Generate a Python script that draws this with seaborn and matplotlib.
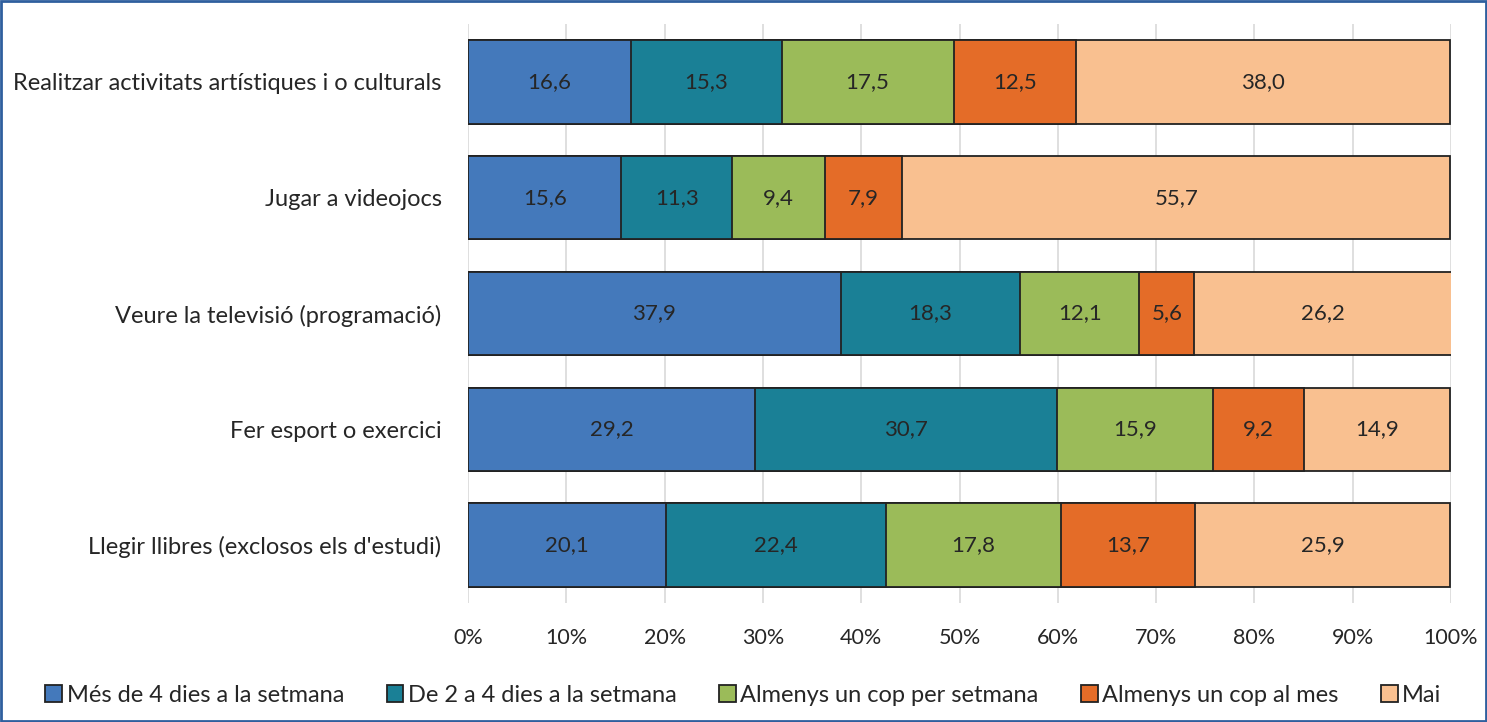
import matplotlib
matplotlib.use("Agg")
import matplotlib.pyplot as plt
import seaborn as sns
import pandas as pd
import numpy as np
from matplotlib.patches import Patch

categories = ["Realitzar activitats artístiques i o culturals",
              "Jugar a videojocs",
              "Veure la televisió (programació)",
              "Fer esport o exercici",
              "Llegir llibres (exclosos els d'estudi)"]
series = ["Més de 4 dies a la setmana", "De 2 a 4 dies a la setmana",
          "Almenys un cop per setmana", "Almenys un cop al mes", "Mai"]
mes4 = [16.6, 15.6, 37.9, 29.2, 20.1]
de2a4 = [15.3, 11.3, 18.3, 30.7, 22.4]
setmana = [17.5, 9.4, 12.1, 15.9, 17.8]
mes = [12.5, 7.9, 5.6, 9.2, 13.7]
mai = [38.0, 55.7, 26.2, 14.9, 25.9]
colors = ["#4479BB", "#1A8096", "#9BBB59", "#E46C28", "#F9C090"]

sns.set_theme(style="white")
plt.rcParams['font.family'] = ['Lato', 'DejaVu Sans']

vals = np.array([mes4, de2a4, setmana, mes, mai])
cum = vals.cumsum(axis=0)

fig = plt.figure(figsize=(14.87, 7.22), dpi=100)
ax = fig.add_axes([468/1487, 1-603/722, (1451-468)/1487, (603-24)/722])

for i in range(len(series) - 1, -1, -1):
    df = pd.DataFrame({"cat": categories, "val": cum[i]})
    sns.barplot(data=df, y="cat", x="val", orient="h", color=colors[i],
                width=0.72, edgecolor="#222222", linewidth=1.3, ax=ax,
                saturation=1)

for i in range(len(series)):
    for j in range(len(categories)):
        c = cum[i][j] - vals[i][j] / 2
        ax.text(c, j, f"{vals[i][j]:.1f}".replace(".", ","), ha="center",
                va="center", fontsize=16, color="#262626")

ax.set_xlim(0, 100)
ax.set_ylim(4.5, -0.5)
ax.set_xticks(np.arange(0, 101, 10))
ax.set_xticklabels([f"{t}%" for t in range(0, 101, 10)], fontsize=15.5, color="#262626")
ax.tick_params(axis="y", labelsize=17, labelcolor="#262626", pad=19, length=0)
ax.tick_params(axis="x", pad=18, length=0)
ax.set_xlabel("")
ax.set_ylabel("")
ax.grid(axis="x", color="#D9D9D9", linewidth=1.2)
ax.set_axisbelow(True)
for s in ax.spines.values():
    s.set_visible(False)

handles = [Patch(facecolor=colors[i], edgecolor="#222222", linewidth=1.3, label=series[i])
           for i in range(len(series))]
fig.legend(handles=handles, loc="center", bbox_to_anchor=(0.5, 1 - 695/722), ncol=5,
           frameon=False, fontsize=17, handlelength=0.7, handleheight=0.7,
           handletextpad=0.2, columnspacing=1.8)

border = plt.Rectangle((0.001, 0.001), 0.998, 0.997, transform=fig.transFigure,
                       fill=False, edgecolor="#2F5F9E", linewidth=2)
fig.patches.append(border)

fig.savefig("out.png", dpi=100)
